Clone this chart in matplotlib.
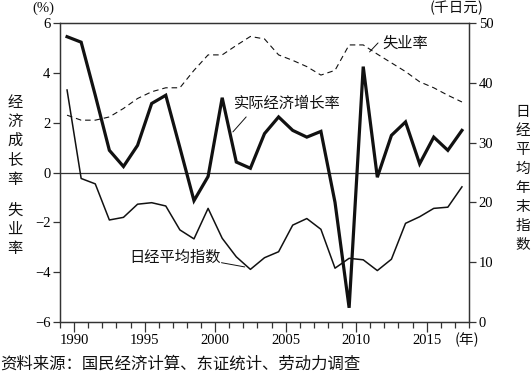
import matplotlib
matplotlib.use("Agg")
import matplotlib.pyplot as plt

plt.rcParams['font.family'] = ['Noto Sans CJK SC', 'DejaVu Sans']

years = list(range(1989, 2018))
gdp_growth = [5.45, 5.23, 3.1, 0.89, 0.24, 1.09, 2.77, 3.1, 1.0, -1.13, -0.16, 3.0,
              0.42, 0.17, 1.56, 2.23, 1.69, 1.42, 1.65, -1.2, -5.43, 4.25, -0.19,
              1.49, 2.03, 0.35, 1.42, 0.89, 1.69]
unemployment = [2.3, 2.1, 2.1, 2.23, 2.57, 2.97, 3.24, 3.4, 3.4, 4.1, 4.72, 4.72,
                5.1, 5.46, 5.36, 4.72, 4.5, 4.25, 3.91, 4.1, 5.12, 5.12, 4.75,
                4.4, 4.05, 3.64, 3.4, 3.1, 2.83]
nikkei = [38.8, 24.0, 23.1, 17.06, 17.5, 19.7, 19.95, 19.4, 15.4, 13.9, 19.0, 14.0,
          10.9, 8.8, 10.75, 11.75, 16.2, 17.3, 15.5, 9.0, 10.65, 10.4, 8.6, 10.5,
          16.5, 17.6, 19.0, 19.2, 22.6]
left_ticks = [-6, -4, -2, 0, 2, 4, 6]
right_ticks = [0, 10, 20, 30, 40, 50]
year_labels = [1990, 1995, 2000, 2005, 2010, 2015]

xs = [y + 0.5 for y in years]
ink = '#111111'
axc = '#333333'
serif = 'Liberation Serif'

fig = plt.figure(figsize=(5.32, 3.77), dpi=100)
ax = fig.add_axes([60/532, 55/377, 409/532, 299/377])
ax2 = ax.twinx()

ax.plot(xs, gdp_growth, color=ink, lw=2.3, solid_joinstyle='miter', zorder=5)
ax.plot(xs, unemployment, color=ink, lw=0.8, dashes=(5, 3.5), zorder=4)
ax2.plot(xs, nikkei, color=ink, lw=1.1, zorder=4)
ax.axhline(0, color=axc, lw=0.9, zorder=1)

ax.set_xlim(1989, 2018)
ax.set_ylim(-6, 6)
ax2.set_ylim(0, 50)
ax.set_yticks(left_ticks)
ax.set_yticklabels(['\u2212%d' % abs(v) if v < 0 else str(v) for v in left_ticks],
                   fontfamily=serif, fontsize=10.5)
ax2.set_yticks(right_ticks)
ax2.set_yticklabels([str(v) for v in right_ticks], fontfamily=serif, fontsize=10.5)

ax.set_xticks(year_labels)
ax.set_xticklabels([str(v) for v in year_labels], fontfamily=serif, fontsize=10.5)
ax.set_xticks(range(1989, 2019), minor=True)
ax.tick_params(axis='x', which='major', length=7, width=0.9, color=axc, pad=2)
ax.tick_params(axis='x', which='minor', length=4.5, width=0.9, color=axc)
ax.tick_params(axis='y', length=5, width=0.9, color=axc, pad=2)
ax2.tick_params(axis='y', length=5, width=0.9, color=axc, pad=2)
for a in (ax, ax2):
    for s in a.spines.values():
        s.set_color(axc)
        s.set_linewidth(0.9)

# annotations: text labels and leader lines
lead = dict(arrowstyle='-', color=ink, lw=0.7, shrinkA=0, shrinkB=0)
ax.text(2011.85, 5.2, '失业率', fontsize=11, color=ink, va='center', ha='left')
ax.annotate('', xy=(2010.95, 4.84), xytext=(2011.55, 5.2), arrowprops=lead)

ax.text(2001.35, 2.78, '实际经济增长率', fontsize=11, color=ink, va='center', ha='left')
ax.annotate('', xy=(2001.26, 1.63), xytext=(2002.2, 2.23), arrowprops=lead)

ax.text(1993.9, -3.39, '日经平均指数', fontsize=11, color=ink, va='center', ha='left')
ax.annotate('', xy=(2002.1, -3.79), xytext=(2000.45, -3.62), arrowprops=lead)

# axis unit labels
fig.text(43/532, 1 - 8/377, '(%)', fontsize=10.5, fontfamily=serif, ha='center', va='center', color=ink)
fig.text(457/532, 1 - 8/377, '(千日元)', fontsize=10.5, ha='center', va='center', color=ink)
fig.text(467/532, 1 - 340/377, '(年)', fontsize=10.5, ha='center', va='center', color=ink)

for i, ch in enumerate('经济成长率'):
    fig.text(15/532, 1 - (102 + i * 19.3)/377, ch, fontsize=11, ha='center', va='center', color=ink)
for i, ch in enumerate('失业率'):
    fig.text(15/532, 1 - (210 + i * 19.3)/377, ch, fontsize=11, ha='center', va='center', color=ink)
for i, ch in enumerate('日经平均年末指数'):
    fig.text(523/532, 1 - (112 + i * 19)/377, ch, fontsize=10.5, ha='center', va='center', color=ink)

fig.text(0/532, 1 - 364/377, '资料来源：国民经济计算、东证统计、劳动力调查', fontsize=11.8,
         ha='left', va='center', color=ink)

fig.savefig('out.png', dpi=100)
